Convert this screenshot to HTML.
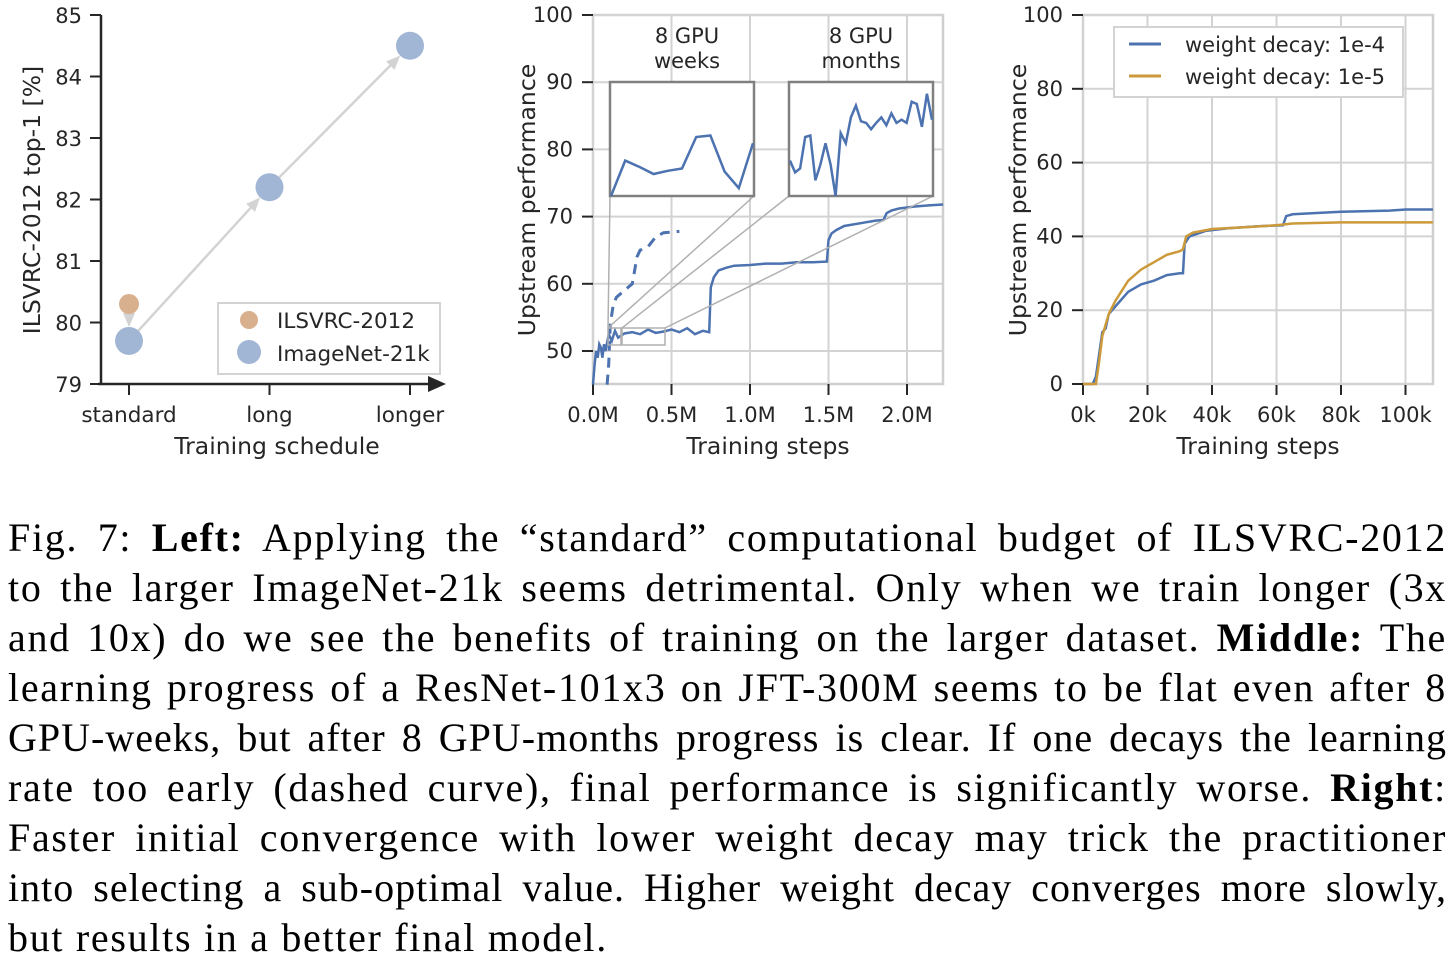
<!DOCTYPE html>
<html><head><meta charset="utf-8">
<style>
html,body{margin:0;padding:0;background:#fff;}
body{width:1455px;height:964px;position:relative;overflow:hidden;}
svg{position:absolute;left:0;top:0;}
svg text{font-family:"DejaVu Sans","Liberation Sans",sans-serif;fill:#262626;}
#caption{position:absolute;left:8px;top:513px;width:1439px;font-family:"Liberation Serif",serif;font-size:40px;letter-spacing:1.7px;color:#000;}
#caption div{height:50px;line-height:50px;text-align:justify;text-align-last:justify;white-space:nowrap;}
#caption div.tight{letter-spacing:1px;}
#caption div.last{text-align-last:left;}
</style></head>
<body>
<svg id="fig" width="1455" height="500"></svg>
<div id="caption">
<div>Fig. 7: <b>Left:</b> Applying the “standard” computational budget of ILSVRC-2012</div>
<div>to the larger ImageNet-21k seems detrimental. Only when we train longer (3x</div>
<div>and 10x) do we see the benefits of training on the larger dataset. <b>Middle:</b> The</div>
<div>learning progress of a ResNet-101x3 on JFT-300M seems to be flat even after 8</div>
<div class="tight">GPU-weeks, but after 8 GPU-months progress is clear. If one decays the learning</div>
<div>rate too early (dashed curve), final performance is significantly worse. <b>Right</b>:</div>
<div>Faster initial convergence with lower weight decay may trick the practitioner</div>
<div class="tight">into selecting a sub-optimal value. Higher weight decay converges more slowly,</div>
<div class="last">but results in a better final model.</div>
</div>
<script>
// ---- Left chart data ----
const leftCategories = ["standard","long","longer"];
const leftYTicks = [79,80,81,82,83,84,85];
const imagenetValues = [79.7, 82.2, 84.5];
const ilsvrcValues = [80.3];
// ---- Middle chart data ----
const midXTicks = [0,0.5,1.0,1.5,2.0];
const midXLabels = ["0.0M","0.5M","1.0M","1.5M","2.0M"];
const midYTicks = [50,60,70,80,90,100];
const midSolidSteps = [0,0.01,0.02,0.03,0.04,0.05,0.06,0.07,0.08,0.1,0.12,0.14,0.16,0.2,0.25,0.3,0.35,0.4,0.45,0.5,0.55,0.6,0.65,0.7,0.74,0.75,0.77,0.8,0.85,0.9,1.0,1.1,1.2,1.3,1.4,1.49,1.5,1.52,1.55,1.6,1.7,1.8,1.85,1.87,1.9,1.95,2.05,2.15,2.23];
const midSolidValues = [45,48,50,49,51,50.5,49,51,50,52.5,51.5,53,52,52.6,52.8,52.5,53.2,52.7,52.9,53.2,52.8,53.4,52.5,53,52.8,59.5,61,62,62.4,62.7,62.8,63,63,63.2,63.2,63.3,66.5,67.5,68,68.6,69,69.4,69.5,70.5,70.9,71.2,71.5,71.7,71.8];
const midDashSteps = [0.09,0.1,0.11,0.13,0.15,0.2,0.25,0.28,0.3,0.35,0.4,0.45,0.55];
const midDashValues = [45,48,54,57,58,59,60,64,65,65.5,67,67.6,67.8];
const insetWeeksValues = [73.5,78,77.2,76.3,76.7,77,81,81.2,76.6,74.5,80.2];
const insetMonthsValues = [78,76.5,77,81,81.2,75.5,77.5,80.2,77.5,73.5,81.5,80.2,83.5,85,83,82.8,82,82.8,83.5,82.5,84,82.8,83.2,82.8,85.5,85.2,82.3,86.5,83.2];
// ---- Right chart data ----
const rightXTicks = [0,20000,40000,60000,80000,100000];
const rightXLabels = ["0k","20k","40k","60k","80k","100k"];
const rightYTicks = [0,20,40,60,80,100];
const wd4Steps = [0,3000,4000,5000,6000,7000,8000,10000,14000,18000,22000,26000,30000,31000,31500,33000,38000,45000,55000,62000,63000,65000,80000,95000,100000,108500];
const wd4Values = [0,0,2,8,14,15,19,21,25,27,28,29.5,30,30,38,40,41.5,42.2,42.8,43,45.5,46,46.7,47,47.3,47.3];
const wd5Steps = [0,4000,5000,6000,8000,10000,14000,18000,22000,26000,30000,31000,32000,34000,40000,50000,60000,65000,80000,108500];
const wd5Values = [0,0,6,13,19,22.5,28,31,33,35,36,36.5,40,41,42,42.5,43,43.5,43.8,43.8];

const NS="http://www.w3.org/2000/svg";
const svg=document.getElementById('fig');
function mk(tag,attrs,name,parent){
  const e=document.createElementNS(NS,tag);
  for(const k in attrs)e.setAttribute(k,attrs[k]);
  
  
  (parent||svg).appendChild(e);return e;
}
function txt(x,y,s,size,anchor,name,extra){
  const t=mk('text',Object.assign({x:x,y:y,'font-size':size,'text-anchor':anchor||'middle'},extra||{}),name);
  t.textContent=s;return t;
}
function pts(xs,ys,fx,fy){return xs.map((v,i)=>fx(v).toFixed(1)+','+fy(ys[i]).toFixed(1)).join(' ');}

// ===== LEFT =====
const lx=i=>129+i*140.5, ly=v=>384-(v-79)*61.5;
mk('line',{x1:101,y1:15,x2:101,y2:384,stroke:'#262626','stroke-width':2.5},'left-y-axis');
mk('line',{x1:98,y1:384,x2:432,y2:384,stroke:'#262626','stroke-width':2.5},'left-x-axis');
mk('polygon',{points:'428,376 446,384 428,392',fill:'#262626'},'left-x-axis-arrow');
leftYTicks.forEach(v=>{mk('line',{x1:90,y1:ly(v),x2:101,y2:ly(v),stroke:'#262626','stroke-width':2},'left-y-tick');
 txt(82,ly(v)+8,String(v),21,'end','left-y-tick-label');});
leftCategories.forEach((c,i)=>{mk('line',{x1:lx(i),y1:384,x2:lx(i),y2:395,stroke:'#262626','stroke-width':2},'left-x-tick');
 txt(lx(i),422,c,21.5,'middle','left-x-tick-label');});
txt(277,454,'Training schedule',23.5,'middle','left-x-axis-title');
txt(40,200,'ILSVRC-2012 top-1 [%]',23.5,'middle','left-y-axis-title',{transform:'rotate(-90 40 200)'});
function arrow(x1,y1,x2,y2,name){
  const dx=x2-x1,dy=y2-y1,L=Math.hypot(dx,dy),ux=dx/L,uy=dy/L,r=14;
  const ex=x2-ux*r,ey=y2-uy*r;
  mk('line',{x1:x1+ux*r,y1:y1+uy*r,x2:ex-ux*8,y2:ey-uy*8,stroke:'#d3d3d3','stroke-width':2.5},name);
  const px=-uy,py=ux;
  mk('polygon',{points:`${ex},${ey} ${ex-ux*14+px*6},${ey-uy*14+py*6} ${ex-ux*14-px*6},${ey-uy*14-py*6}`,fill:'#d3d3d3'},name+'-head');
}
arrow(lx(0),ly(ilsvrcValues[0]),lx(0),ly(imagenetValues[0]),'left-arrow-drop');
for(let i=0;i<imagenetValues.length-1;i++)arrow(lx(i),ly(imagenetValues[i]),lx(i+1),ly(imagenetValues[i+1]),'left-arrow-gain');
ilsvrcValues.forEach((v,i)=>mk('circle',{cx:lx(i),cy:ly(v),r:10,fill:'#d9b08e'},'ilsvrc-point'));
imagenetValues.forEach((v,i)=>mk('circle',{cx:lx(i),cy:ly(v),r:14,fill:'#a1b6d4'},'imagenet-point'));
mk('rect',{x:218,y:303,width:222,height:71,fill:'#fff',stroke:'#d3d3d3','stroke-width':2},'left-legend');
mk('circle',{cx:249,cy:320,r:9,fill:'#d9b08e'},'legend-marker-ilsvrc');
txt(277,328,'ILSVRC-2012',21.5,'start','legend-label-ilsvrc');
mk('circle',{cx:249,cy:352,r:12,fill:'#a1b6d4'},'legend-marker-imagenet');
txt(277,361,'ImageNet-21k',21.5,'start','legend-label-imagenet');

// ===== MIDDLE =====
const mL=593,mR=943,mT=15,mB=384;
const mx=v=>593+v*157, my=v=>15+(100-v)*6.72;
mk('rect',{x:mL,y:mT,width:mR-mL,height:mB-mT,fill:'none',stroke:'#cfcfcf','stroke-width':2.5},'middle-plot-frame');
midXTicks.forEach((v,i)=>{mk('line',{x1:mx(v),y1:mT,x2:mx(v),y2:mB,stroke:'#d3d3d3','stroke-width':2},'middle-x-grid');
 mk('line',{x1:mx(v),y1:mB,x2:mx(v),y2:mB+11,stroke:'#262626','stroke-width':2},'middle-x-tick');
 txt(mx(v),422,midXLabels[i],21,'middle','middle-x-tick-label');});
midYTicks.forEach(v=>{mk('line',{x1:mL,y1:my(v),x2:mR,y2:my(v),stroke:'#d3d3d3','stroke-width':2},'middle-y-grid');
 mk('line',{x1:mL-11,y1:my(v),x2:mL,y2:my(v),stroke:'#262626','stroke-width':2},'middle-y-tick');
 txt(mL-20,my(v)+7,String(v),21,'end','middle-y-tick-label');});
txt(768,454,'Training steps',23.5,'middle','middle-x-axis-title');
txt(535,200,'Upstream performance',23.5,'middle','middle-y-axis-title',{transform:'rotate(-90 535 200)'});
mk('polyline',{points:pts(midDashSteps,midDashValues,mx,my),fill:'none',stroke:'#4c72b0','stroke-width':3,'stroke-dasharray':'10,7'},'early-decay-dashed-line');
mk('polyline',{points:pts(midSolidSteps,midSolidValues,mx,my),fill:'none',stroke:'#4c72b0','stroke-width':2.5},'training-progress-line');
mk('rect',{x:608,y:328,width:13,height:17,fill:'none',stroke:'#b0b0b0','stroke-width':1.5},'weeks-zoom-region');
mk('rect',{x:622,y:328,width:43,height:17,fill:'none',stroke:'#b0b0b0','stroke-width':1.5},'months-zoom-region');
[[608,328,610,196],[608,328,754,196],[622,328,789,196],[665,328,933,196]].forEach(c=>
 mk('line',{x1:c[0],y1:c[1],x2:c[2],y2:c[3],stroke:'#b0b0b0','stroke-width':1.5},'inset-connector'));
function inset(x0,y0,w,h,vals,lo,hi,name){
  mk('rect',{x:x0,y:y0,width:w,height:h,fill:'#fff',stroke:'#808080','stroke-width':2.5},name+'-frame');
  const idx=vals.map((_,i)=>i);
  const fx=i=>x0+1+i*(w-2)/(vals.length-1), fy=v=>y0+h-(v-lo)/(hi-lo)*h;
  mk('polyline',{points:pts(idx,vals,fx,fy),fill:'none',stroke:'#4c72b0','stroke-width':2.5},name+'-line');
}
inset(610,82,144,114,insetWeeksValues,73.5,88,'inset-gpu-weeks');
inset(789,82,144,114,insetMonthsValues,73.5,88,'inset-gpu-months');
txt(687,43,'8 GPU',21,'middle','label-8gpu-weeks');
txt(687,68,'weeks',21,'middle','label-8gpu-weeks-2');
txt(861,43,'8 GPU',21,'middle','label-8gpu-months');
txt(861,68,'months',21,'middle','label-8gpu-months-2');

// ===== RIGHT =====
const rL=1083,rR=1433,rT=15,rB=384;
const rx=v=>1083+v/20000*64.5, ry=v=>384-v*3.69;
mk('rect',{x:rL,y:rT,width:rR-rL,height:rB-rT,fill:'none',stroke:'#cfcfcf','stroke-width':2.5},'right-plot-frame');
rightXTicks.forEach((v,i)=>{mk('line',{x1:rx(v),y1:rT,x2:rx(v),y2:rB,stroke:'#d3d3d3','stroke-width':2},'right-x-grid');
 mk('line',{x1:rx(v),y1:rB,x2:rx(v),y2:rB+11,stroke:'#262626','stroke-width':2},'right-x-tick');
 txt(rx(v),422,rightXLabels[i],21,'middle','right-x-tick-label');});
rightYTicks.forEach(v=>{mk('line',{x1:rL,y1:ry(v),x2:rR,y2:ry(v),stroke:'#d3d3d3','stroke-width':2},'right-y-grid');
 mk('line',{x1:rL-11,y1:ry(v),x2:rL,y2:ry(v),stroke:'#262626','stroke-width':2},'right-y-tick');
 txt(rL-20,ry(v)+7,String(v),21,'end','right-y-tick-label');});
txt(1258,454,'Training steps',23.5,'middle','right-x-axis-title');
txt(1026,200,'Upstream performance',23.5,'middle','right-y-axis-title',{transform:'rotate(-90 1026 200)'});
mk('polyline',{points:pts(wd4Steps,wd4Values,rx,ry),fill:'none',stroke:'#4c72b0','stroke-width':2.5},'weight-decay-1e-4-line');
mk('polyline',{points:pts(wd5Steps,wd5Values,rx,ry),fill:'none',stroke:'#cc9a3a','stroke-width':2.5},'weight-decay-1e-5-line');
mk('rect',{x:1114,y:27,width:289,height:70,fill:'#fff',stroke:'#d3d3d3','stroke-width':2},'right-legend');
mk('line',{x1:1129,y1:44,x2:1161,y2:44,stroke:'#4c72b0','stroke-width':3},'legend-line-1e-4');
txt(1185,52,'weight decay: 1e-4',21,'start','legend-label-1e-4');
mk('line',{x1:1129,y1:76,x2:1161,y2:76,stroke:'#cc9a3a','stroke-width':3},'legend-line-1e-5');
txt(1185,84,'weight decay: 1e-5',21,'start','legend-label-1e-5');
</script>
</body></html>
